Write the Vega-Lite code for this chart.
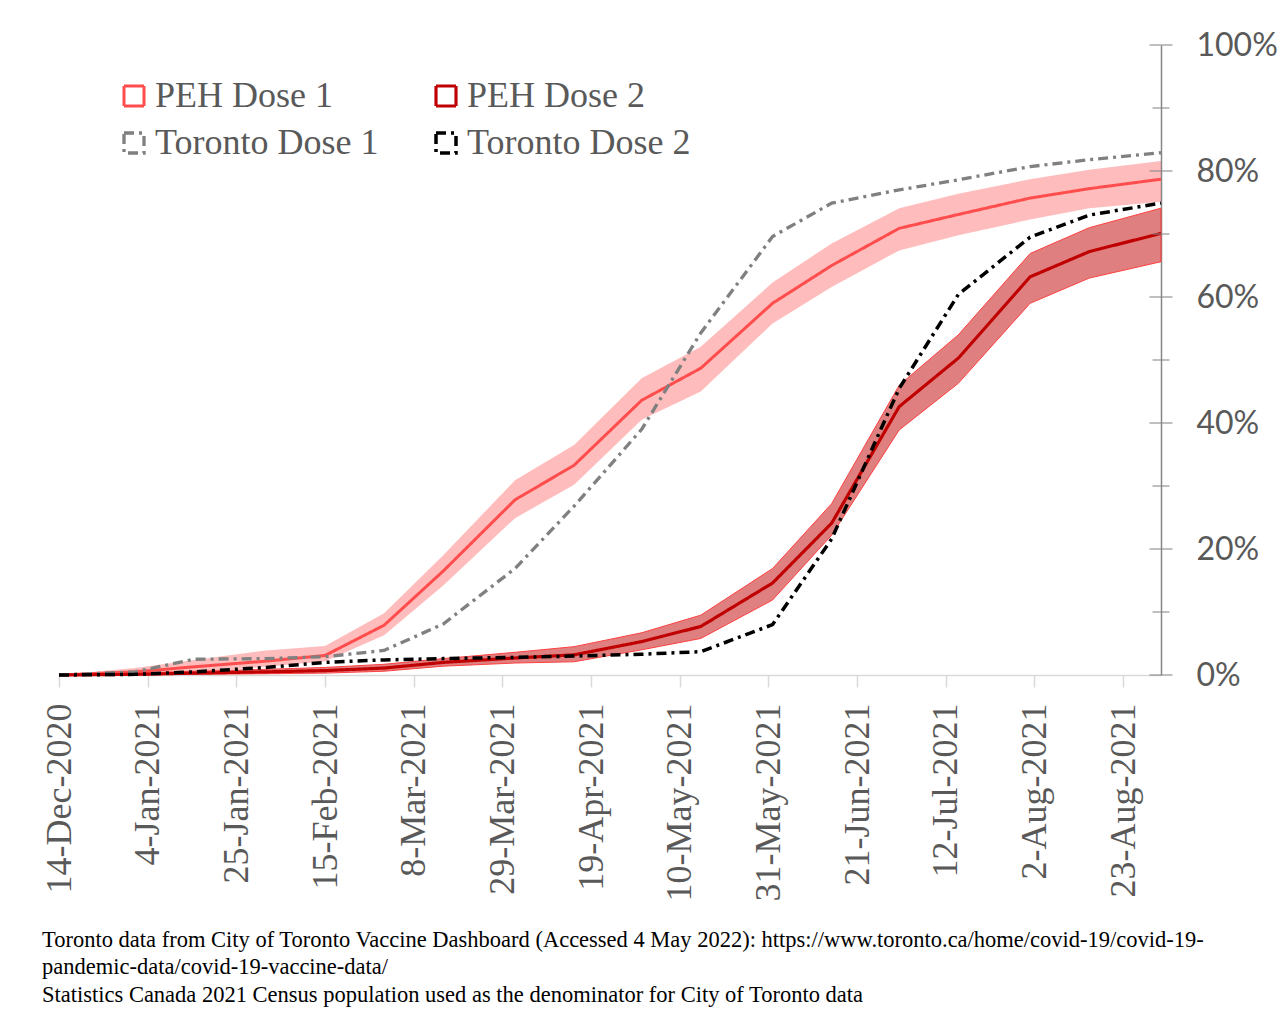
{
  "$schema": "https://vega.github.io/schema/vega-lite/v6.json",
  "width": 1102,
  "height": 630,
  "autosize": {"type": "none"},
  "padding": {"left": 59, "top": 45, "right": 119, "bottom": 338},
  "background": "white",
  "datasets": {
    "series": [
      {"d": "2020-12-14", "s": "PEH Dose 1", "v": 0, "lo": 0, "hi": 0},
      {"d": "2021-01-01", "s": "PEH Dose 1", "v": 0.5, "lo": 0, "hi": 1.1},
      {"d": "2021-01-15", "s": "PEH Dose 1", "v": 1.3, "lo": 0.5, "hi": 2.4},
      {"d": "2021-02-01", "s": "PEH Dose 1", "v": 2.2, "lo": 1.3, "hi": 3.9},
      {"d": "2021-02-15", "s": "PEH Dose 1", "v": 3.1, "lo": 2.2, "hi": 4.6},
      {"d": "2021-03-01", "s": "PEH Dose 1", "v": 7.9, "lo": 6.3, "hi": 9.8},
      {"d": "2021-03-15", "s": "PEH Dose 1", "v": 16.5, "lo": 14.2, "hi": 19.0},
      {"d": "2021-04-01", "s": "PEH Dose 1", "v": 27.8, "lo": 24.9, "hi": 30.9},
      {"d": "2021-04-15", "s": "PEH Dose 1", "v": 33.3, "lo": 30.2, "hi": 36.5},
      {"d": "2021-05-01", "s": "PEH Dose 1", "v": 43.6, "lo": 40.5, "hi": 47.1},
      {"d": "2021-05-15", "s": "PEH Dose 1", "v": 48.7, "lo": 45.0, "hi": 52.1},
      {"d": "2021-06-01", "s": "PEH Dose 1", "v": 59.0, "lo": 55.8, "hi": 62.3},
      {"d": "2021-06-15", "s": "PEH Dose 1", "v": 65.0, "lo": 61.6, "hi": 68.5},
      {"d": "2021-07-01", "s": "PEH Dose 1", "v": 70.9, "lo": 67.4, "hi": 74.1},
      {"d": "2021-07-15", "s": "PEH Dose 1", "v": 73.1, "lo": 69.8, "hi": 76.4},
      {"d": "2021-08-01", "s": "PEH Dose 1", "v": 75.7, "lo": 72.3, "hi": 78.7},
      {"d": "2021-08-15", "s": "PEH Dose 1", "v": 77.2, "lo": 74.1, "hi": 80.2},
      {"d": "2021-09-01", "s": "PEH Dose 1", "v": 78.7, "lo": 75.1, "hi": 81.6},
      {"d": "2020-12-14", "s": "PEH Dose 2", "v": 0, "lo": 0, "hi": 0},
      {"d": "2021-01-01", "s": "PEH Dose 2", "v": 0.1, "lo": 0, "hi": 0.3},
      {"d": "2021-01-15", "s": "PEH Dose 2", "v": 0.3, "lo": 0.1, "hi": 0.6},
      {"d": "2021-02-01", "s": "PEH Dose 2", "v": 0.5, "lo": 0.2, "hi": 0.9},
      {"d": "2021-02-15", "s": "PEH Dose 2", "v": 0.7, "lo": 0.3, "hi": 1.2},
      {"d": "2021-03-01", "s": "PEH Dose 2", "v": 1.1, "lo": 0.6, "hi": 1.7},
      {"d": "2021-03-15", "s": "PEH Dose 2", "v": 2.0, "lo": 1.4, "hi": 2.6},
      {"d": "2021-04-01", "s": "PEH Dose 2", "v": 2.7, "lo": 1.9, "hi": 3.6},
      {"d": "2021-04-15", "s": "PEH Dose 2", "v": 3.2, "lo": 2.1, "hi": 4.5},
      {"d": "2021-05-01", "s": "PEH Dose 2", "v": 5.3, "lo": 4.0, "hi": 6.7},
      {"d": "2021-05-15", "s": "PEH Dose 2", "v": 7.7, "lo": 5.8, "hi": 9.5},
      {"d": "2021-06-01", "s": "PEH Dose 2", "v": 14.6, "lo": 11.9, "hi": 16.9},
      {"d": "2021-06-15", "s": "PEH Dose 2", "v": 24.1, "lo": 22.2, "hi": 27.2},
      {"d": "2021-07-01", "s": "PEH Dose 2", "v": 42.6, "lo": 38.9, "hi": 46.0},
      {"d": "2021-07-15", "s": "PEH Dose 2", "v": 50.3, "lo": 46.3, "hi": 54.0},
      {"d": "2021-08-01", "s": "PEH Dose 2", "v": 63.2, "lo": 59.0, "hi": 66.9},
      {"d": "2021-08-15", "s": "PEH Dose 2", "v": 67.2, "lo": 63.0, "hi": 71.0},
      {"d": "2021-09-01", "s": "PEH Dose 2", "v": 70.1, "lo": 65.6, "hi": 74.1},
      {"d": "2020-12-14", "s": "Toronto Dose 1", "v": 0},
      {"d": "2021-01-01", "s": "Toronto Dose 1", "v": 0.5},
      {"d": "2021-01-15", "s": "Toronto Dose 1", "v": 2.5},
      {"d": "2021-02-01", "s": "Toronto Dose 1", "v": 2.6},
      {"d": "2021-02-15", "s": "Toronto Dose 1", "v": 2.9},
      {"d": "2021-03-01", "s": "Toronto Dose 1", "v": 3.9},
      {"d": "2021-03-15", "s": "Toronto Dose 1", "v": 8.1},
      {"d": "2021-04-01", "s": "Toronto Dose 1", "v": 16.9},
      {"d": "2021-04-15", "s": "Toronto Dose 1", "v": 26.8},
      {"d": "2021-05-01", "s": "Toronto Dose 1", "v": 39.0},
      {"d": "2021-05-15", "s": "Toronto Dose 1", "v": 54.3},
      {"d": "2021-06-01", "s": "Toronto Dose 1", "v": 69.6},
      {"d": "2021-06-15", "s": "Toronto Dose 1", "v": 74.9},
      {"d": "2021-07-01", "s": "Toronto Dose 1", "v": 77.0},
      {"d": "2021-07-15", "s": "Toronto Dose 1", "v": 78.6},
      {"d": "2021-08-01", "s": "Toronto Dose 1", "v": 80.7},
      {"d": "2021-08-15", "s": "Toronto Dose 1", "v": 81.8},
      {"d": "2021-09-01", "s": "Toronto Dose 1", "v": 82.9},
      {"d": "2020-12-14", "s": "Toronto Dose 2", "v": 0},
      {"d": "2021-01-01", "s": "Toronto Dose 2", "v": 0.1},
      {"d": "2021-01-15", "s": "Toronto Dose 2", "v": 0.5},
      {"d": "2021-02-01", "s": "Toronto Dose 2", "v": 1.2},
      {"d": "2021-02-15", "s": "Toronto Dose 2", "v": 2.0},
      {"d": "2021-03-01", "s": "Toronto Dose 2", "v": 2.4},
      {"d": "2021-03-15", "s": "Toronto Dose 2", "v": 2.6},
      {"d": "2021-04-01", "s": "Toronto Dose 2", "v": 2.8},
      {"d": "2021-04-15", "s": "Toronto Dose 2", "v": 3.0},
      {"d": "2021-05-01", "s": "Toronto Dose 2", "v": 3.3},
      {"d": "2021-05-15", "s": "Toronto Dose 2", "v": 3.7},
      {"d": "2021-06-01", "s": "Toronto Dose 2", "v": 8.0},
      {"d": "2021-06-15", "s": "Toronto Dose 2", "v": 21.6},
      {"d": "2021-07-01", "s": "Toronto Dose 2", "v": 45.5},
      {"d": "2021-07-15", "s": "Toronto Dose 2", "v": 60.4},
      {"d": "2021-08-01", "s": "Toronto Dose 2", "v": 69.5},
      {"d": "2021-08-15", "s": "Toronto Dose 2", "v": 73.0},
      {"d": "2021-09-01", "s": "Toronto Dose 2", "v": 74.9}
    ],
    "yticks": [
      {"v": 0, "major": true}, {"v": 10, "major": false}, {"v": 20, "major": true},
      {"v": 30, "major": false}, {"v": 40, "major": true}, {"v": 50, "major": false},
      {"v": 60, "major": true}, {"v": 70, "major": false}, {"v": 80, "major": true},
      {"v": 90, "major": false}, {"v": 100, "major": true}
    ]
  },
  "title": {
    "text": [
      "Toronto data from City of Toronto Vaccine Dashboard (Accessed 4 May 2022): https://www.toronto.ca/home/covid-19/covid-19-",
      "pandemic-data/covid-19-vaccine-data/",
      "Statistics Canada 2021 Census population used as the denominator for City of Toronto data"
    ],
    "orient": "bottom",
    "anchor": "start",
    "frame": "group",
    "dx": -17,
    "offset": 28,
    "font": "Liberation Serif",
    "fontSize": 22.5,
    "fontWeight": "normal",
    "color": "#000000",
    "lineHeight": 27.5,
    "baseline": "top"
  },
  "layer": [
    {
      "data": {"name": "series"},
      "transform": [{"filter": "datum.s === 'PEH Dose 1'"}],
      "mark": {"type": "area", "fill": "#FF5050", "fillOpacity": 0.38},
      "encoding": {
        "x": {"field": "d", "type": "temporal"},
        "y": {"field": "lo", "type": "quantitative"},
        "y2": {"field": "hi"}
      }
    },
    {
      "data": {"name": "series"},
      "transform": [{"filter": "datum.s === 'PEH Dose 2'"}],
      "mark": {"type": "area", "fill": "#C00000", "fillOpacity": 0.5, "stroke": "#FF4040", "strokeWidth": 1},
      "encoding": {
        "x": {"field": "d", "type": "temporal"},
        "y": {"field": "lo", "type": "quantitative"},
        "y2": {"field": "hi"}
      }
    },
    {
      "data": {"name": "series"},
      "mark": {"type": "line", "strokeCap": "butt"},
      "encoding": {
        "x": {
          "field": "d",
          "type": "temporal",
          "scale": {
            "type": "utc",
            "nice": false,
            "domain": [
              {"year": 2020, "month": 12, "date": 14, "utc": true},
              {"year": 2021, "month": 9, "date": 1, "utc": true}
            ]
          },
          "axis": {
            "title": null,
            "values": [
              {"year": 2020, "month": 12, "date": 14, "utc": true},
              {"year": 2021, "month": 1, "date": 4, "utc": true},
              {"year": 2021, "month": 1, "date": 25, "utc": true},
              {"year": 2021, "month": 2, "date": 15, "utc": true},
              {"year": 2021, "month": 3, "date": 8, "utc": true},
              {"year": 2021, "month": 3, "date": 29, "utc": true},
              {"year": 2021, "month": 4, "date": 19, "utc": true},
              {"year": 2021, "month": 5, "date": 10, "utc": true},
              {"year": 2021, "month": 5, "date": 31, "utc": true},
              {"year": 2021, "month": 6, "date": 21, "utc": true},
              {"year": 2021, "month": 7, "date": 12, "utc": true},
              {"year": 2021, "month": 8, "date": 2, "utc": true},
              {"year": 2021, "month": 8, "date": 23, "utc": true}
            ],
            "labelExpr": "utcFormat(datum.value, '%-d-%b-%Y')",
            "labelAngle": -90,
            "labelFont": "Liberation Serif",
            "labelFontSize": 36,
            "labelColor": "#595959",
            "labelPadding": 16,
            "labelLimit": 400,
            "labelOverlap": false,
            "labelFlush": false,
            "grid": false,
            "domainColor": "#D9D9D9",
            "domainWidth": 1.5,
            "tickColor": "#D9D9D9",
            "tickWidth": 1.5,
            "tickSize": 12
          }
        },
        "y": {
          "field": "v",
          "type": "quantitative",
          "scale": {"domain": [0, 100], "nice": false},
          "axis": {
            "title": null,
            "orient": "right",
            "values": [0, 20, 40, 60, 80, 100],
            "labelExpr": "datum.value + '%'",
            "labelFont": "Lato",
            "labelFontSize": 32,
            "labelColor": "#595959",
            "labelPadding": 35,
            "ticks": false,
            "grid": false,
            "domainColor": "#868686",
            "domainWidth": 1.5
          }
        },
        "color": {
          "field": "s",
          "type": "nominal",
          "scale": {
            "domain": ["PEH Dose 1", "PEH Dose 2", "Toronto Dose 1", "Toronto Dose 2"],
            "range": ["#FF4D4D", "#C00000", "#808080", "#000000"]
          },
          "legend": {"title": null}
        },
        "strokeDash": {
          "field": "s",
          "type": "nominal",
          "scale": {
            "domain": ["PEH Dose 1", "PEH Dose 2", "Toronto Dose 1", "Toronto Dose 2"],
            "range": [[1, 0], [1, 0], [10, 5, 3, 5], [10, 5, 3, 5]]
          },
          "legend": {"title": null}
        },
        "strokeWidth": {
          "field": "s",
          "type": "nominal",
          "scale": {
            "domain": ["PEH Dose 1", "PEH Dose 2", "Toronto Dose 1", "Toronto Dose 2"],
            "range": [3, 3.5, 2.5, 3]
          },
          "legend": null
        }
      }
    },
    {
      "mark": {"type": "rule", "color": "#595959", "strokeWidth": 1.5, "strokeDash": [10, 5, 3, 5]},
      "encoding": {"y": {"datum": 0}}
    },
    {
      "data": {"name": "yticks"},
      "mark": {"type": "tick", "orient": "horizontal", "color": "#868686", "thickness": 1.5},
      "encoding": {
        "x": {"datum": {"year": 2021, "month": 9, "date": 1, "utc": true}, "type": "temporal"},
        "y": {"field": "v", "type": "quantitative"},
        "size": {"condition": {"test": "datum.major", "value": 23}, "value": 17}
      }
    }
  ],
  "config": {
    "view": {"stroke": null},
    "legend": {
      "orient": "none",
      "legendX": 57,
      "legendY": 33,
      "direction": "horizontal",
      "columns": 2,
      "columnPadding": 49,
      "rowPadding": 11,
      "symbolType": "square",
      "symbolSize": 400,
      "symbolStrokeWidth": 3,
      "symbolFillColor": "transparent",
      "labelFont": "Liberation Serif",
      "labelFontSize": 36,
      "labelColor": "#595959",
      "labelOffset": 3,
      "labelLimit": 400
    }
  }
}
